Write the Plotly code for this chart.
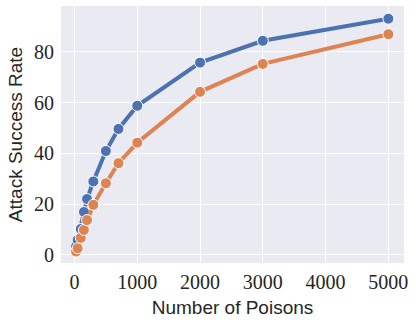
"""
Attack success rate vs. number of poisons
"""
import plotly.graph_objects as go

# Data
num_poisons = [25, 50, 100, 150, 200, 300, 500, 700, 1000, 2000, 3000, 5000]
asr_blue = [3.3, 5.9, 10.2, 16.9, 22.0, 28.9, 40.9, 49.6, 58.7, 75.7, 84.3, 93.0]
asr_orange = [1.3, 2.6, 6.7, 9.8, 13.7, 19.7, 28.2, 36.1, 44.2, 64.2, 75.2, 86.9]

x_ticks = [0, 1000, 2000, 3000, 4000, 5000]
y_ticks = [0, 20, 40, 60, 80]

series = [
    ("blue", asr_blue, "#4C72B0"),
    ("orange", asr_orange, "#DD8452"),
]

fig = go.Figure()

for name, values, color in series:
    fig.add_trace(go.Scatter(
        x=num_poisons,
        y=values,
        mode='lines+markers',
        name=name,
        line=dict(color=color, width=4),
        marker=dict(color=color, size=11, line=dict(color='white', width=1))
    ))

tick_font = dict(family="Liberation Serif, serif", size=20, color="#262626")
title_font = dict(family="Liberation Sans, sans-serif", size=19, color="#262626")

fig.update_layout(
    width=416,
    height=323,
    margin=dict(l=61, r=12, t=6, b=60),
    paper_bgcolor="white",
    plot_bgcolor="#EAEAF2",
    showlegend=False,
    xaxis=dict(
        title=dict(text="Number of Poisons", font=title_font, standoff=8),
        automargin=False,
        range=[-215, 5249],
        tickvals=x_ticks,
        tickfont=tick_font,
        ticklabelstandoff=5,
        gridcolor="white",
        gridwidth=1.2,
        zeroline=False,
        showline=False,
        ticks="",
    ),
    yaxis=dict(
        title=dict(text="Attack Success Rate", font=title_font, standoff=6),
        automargin=False,
        range=[-3.2, 98],
        tickvals=y_ticks,
        tickfont=tick_font,
        ticklabelstandoff=6,
        gridcolor="white",
        gridwidth=1.2,
        zeroline=False,
        showline=False,
        ticks="",
    ),
)

# page body has a default 8px margin; drop it so the figure fills the window
fig.write_html("out.html", config={"displayModeBar": False},
               post_script="document.body.style.margin='0';")
